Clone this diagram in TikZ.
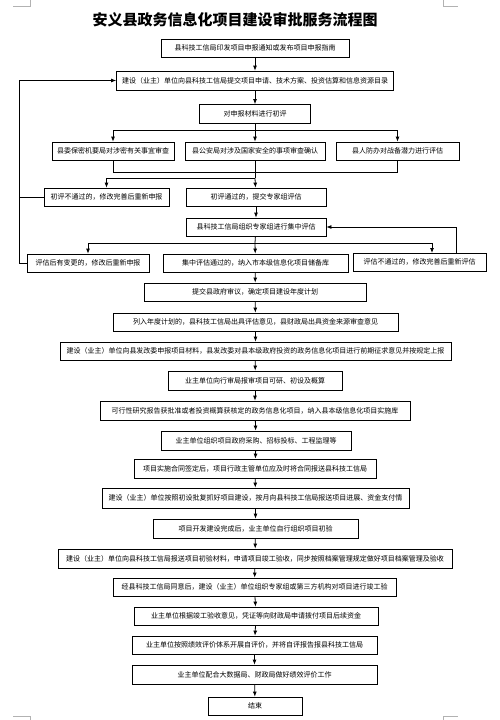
\documentclass[tikz,border=0pt]{standalone}
\usepackage{fontspec}
\setmainfont{Liberation Serif}
\newfontfamily\cjk{Noto Sans CJK SC}
\usetikzlibrary{arrows.meta}
\begin{document}
\begin{tikzpicture}[x=1pt,y=-1pt,
  box/.style={draw,line width=0.8pt,minimum height=18pt,inner sep=0pt,
    font=\cjk\fontsize{7}{8}\selectfont},
  arr/.style={line width=0.8pt,-{Latex[length=5pt,width=4pt]}},
  ln/.style={line width=0.8pt},
  cropmark/.style={line width=0.5pt,gray!60}]
\useasboundingbox (0,0) rectangle (499,720);
% crop marks
\draw[cropmark] (13,6) -- (30,6) -- (30,0);
\draw[cropmark] (443,0) -- (443,6) -- (458,6);
\draw[cropmark] (13,716) -- (30,716) -- (30,720);
\draw[cropmark] (443,720) -- (443,716) -- (458,716);
% title
\node[font=\cjk\bfseries\fontsize{15}{17}\selectfont] (title) at (235,20) {安义县政务信息化项目建设审批服务流程图};
% boxes
\node[box,minimum width=188] (b1) at (255,48) {县科技工信局印发项目申报通知或发布项目申报指南};
\node[box,minimum width=277,minimum height=19] (b2) at (255,80.5) {建设（业主）单位向县科技工信局提交项目申请、技术方案、投资估算和信息资源目录};
\node[box,minimum width=111,minimum height=19] (b3) at (255,114) {对申报材料进行初评};
\node[box,minimum width=122] (b4) at (113,151) {县委保密机要局对涉密有关事宜审查};
\node[box,minimum width=140] (b5) at (255,151) {县公安局对涉及国家安全的事项审查确认};
\node[box,minimum width=123] (b6) at (397.5,151) {县人防办对战备潜力进行评估};
\node[box,minimum width=125] (b7) at (106.5,197) {初评不通过的，修改完善后重新申报};
\node[box,minimum width=140] (b8) at (256,197) {初评通过的，提交专家组评估};
\node[box,minimum width=140] (b9) at (256,227) {县科技工信局组织专家组进行集中评估};
\node[box,minimum width=122] (b10) at (88,263) {评估后有变更的，修改后重新申报};
\node[box,minimum width=185] (b11) at (255.5,263) {集中评估通过的，纳入市本级信息化项目储备库};
\node[box,minimum width=133] (b12) at (419.5,262) {评估不通过的，修改完善后重新评估};
\node[box,minimum width=222] (b13) at (255,292) {提交县政府审议，确定项目建设年度计划};
\node[box,minimum width=285] (b14) at (255.5,322) {列入年度计划的，县科技工信局出具评估意见，县财政局出具资金来源审查意见};
\node[box,minimum width=391] (b15) at (255.5,351) {建设（业主）单位向县发改委申报项目材料，县发改委对县本级政府投资的政务信息化项目进行前期征求意见并按规定上报};
\node[box,minimum width=174,minimum height=19] (b16) at (255,380.5) {业主单位向行审局报审项目可研、初设及概算};
\node[box,minimum width=310,minimum height=19] (b17) at (255,410.5) {可行性研究报告获批准或者投资概算获核定的政务信息化项目，纳入县本级信息化项目实施库};
\node[box,minimum width=190,minimum height=19] (b18) at (256,440.5) {业主单位组织项目政府采购、招标投标、工程监理等};
\node[box,minimum width=242,minimum height=19] (b19) at (255,468.5) {项目实施合同签定后，项目行政主管单位应及时将合同报送县科技工信局};
\node[box,minimum width=307,minimum height=20] (b20) at (255.5,498) {建设（业主）单位按照初设批复抓好项目建设，按月向县科技工信局报送项目进展、资金支付情};
\node[box,minimum width=205,minimum height=19] (b21) at (255.5,528.5) {项目开发建设完成后，业主单位自行组织项目初验};
\node[box,minimum width=394,minimum height=19] (b22) at (255,558.5) {建设（业主）单位向县科技工信局报送项目初验材料，申请项目竣工验收，同步按照档案管理规定做好项目档案管理及验收};
\node[box,minimum width=283] (b23) at (254.5,587) {经县科技工信局同意后，建设（业主）单位组织专家组或第三方机构对项目进行竣工验};
\node[box,minimum width=244] (b24) at (256,616) {业主单位根据竣工验收意见，凭证等向财政局申请拨付项目后续资金};
\node[box,minimum width=245] (b25) at (254.5,645) {业主单位按照绩效评价体系开展自评价，并将自评报告报县科技工信局};
\node[box,minimum width=245,minimum height=19] (b26) at (254.5,674.5) {业主单位配合大数据局、财政局做好绩效评价工作};
\node[box,minimum width=94] (b27) at (255,706) {结束};
% helper coordinates
\coordinate (L) at (19,0);
\coordinate (R) at (456,0);
\coordinate (s1) at (255,130);
\coordinate (m1) at (255,172);
\coordinate (s2) at (255,178);
\coordinate (s3) at (255,243);
\coordinate (t12) at (432,253);
% connectors
\draw[arr] (b1) -- (b2);
\draw[arr] (b2) -- (b3);
\draw[ln] (b3) -- (s1);
\draw[arr] (s1) -| (b4.north);
\draw[arr] (s1) -- (b5);
\draw[arr] (s1) -| (b6.north);
\draw[ln] (b4.south) -- (b4.south |- m1) -- (b6.south |- m1) -- (b6.south);
\draw[ln] (b5.south) -- (s2);
\draw[arr] (s2) -| (b7.north);
\draw[arr] (s2) -- (b8);
\draw[arr] (b8) -- (b9);
\draw[ln] (b9) -- (s3);
\draw[arr] (s3) -| (b10.north);
\draw[arr] (s3) -- (b11);
\draw[arr] (s3) -| (t12);
\draw[arr] (b12.north -| R) |- (b9.east);
\draw[arr] (b10.west) -- (b10.west -| L) |- (b2.west);
\draw[ln] (b7.west) -- (b7.west -| L);
\draw[arr] (b11) -- (b13);
\draw[arr] (b13) -- (b14);
\draw[arr] (b14) -- (b15);
\draw[arr] (b15) -- (b16);
\draw[arr] (b16) -- (b17);
\draw[arr] (b17) -- (b18);
\draw[arr] (b18) -- (b19);
\draw[arr] (b19) -- (b20);
\draw[arr] (b20) -- (b21);
\draw[arr] (b21) -- (b22);
\draw[arr] (b22) -- (b23);
\draw[arr] (b23) -- (b24);
\draw[arr] (b24) -- (b25);
\draw[arr] (b25) -- (b26);
\draw[arr] (b26) -- (b27);
\end{tikzpicture}
\end{document}
